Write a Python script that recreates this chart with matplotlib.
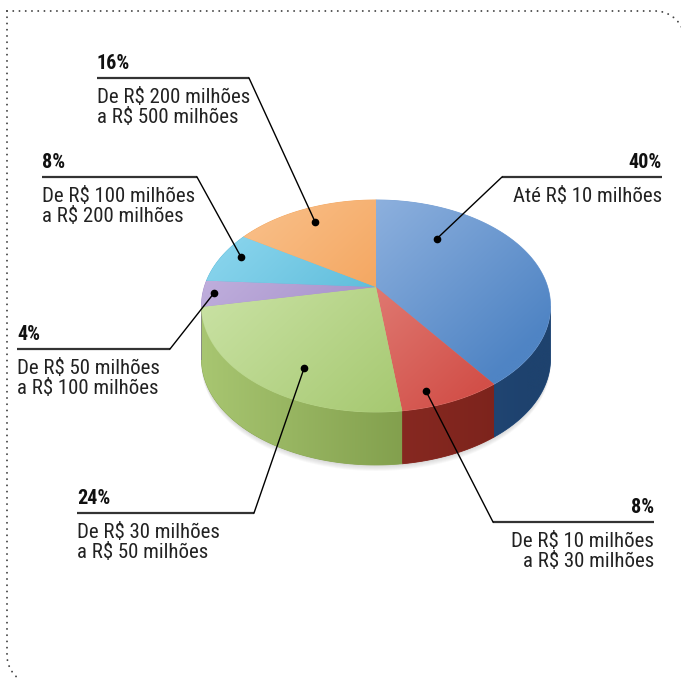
import numpy as np
import matplotlib
matplotlib.use('Agg')
import matplotlib.pyplot as plt
from matplotlib import font_manager as fm
from matplotlib.patches import Polygon
from matplotlib.colors import to_rgb

# participação por faixa de faturamento (sentido horário a partir do topo)
fatias = [40, 8, 24, 4, 8, 16]
rotulos_pct = ['40%', '8%', '24%', '4%', '8%', '16%']
faixas = [
    ['Até R$ 10 milhões'],
    ['De R$ 10 milhões', 'a R$ 30 milhões'],
    ['De R$ 30 milhões', 'a R$ 50 milhões'],
    ['De R$ 50 milhões', 'a R$ 100 milhões'],
    ['De R$ 100 milhões', 'a R$ 200 milhões'],
    ['De R$ 200 milhões', 'a R$ 500 milhões'],
]

# cores: topo claro, topo escuro, lateral clara, lateral escura
cores = [
    ('#a6c2e8', '#4f84c4', '#2f5e96', '#1e426e'),
    ('#eca29a', '#d24f48', '#9a332a', '#7a221b'),
    ('#cfe6ac', '#a0c468', '#a9c772', '#6c8938'),
    ('#c4b4e0', '#8e74b8', '#7a64a0', '#5e4a82'),
    ('#8cd6ee', '#34a5c9', '#2a86a6', '#1f6a86'),
    ('#f9c08a', '#f08f3a', '#c7712a', '#a85a1e'),
]

# posição dos rótulos: (x, alinhamento, y da linha, ângulo e raio do ponto)
layout = [
    (662, 'right', 177, 37, 0.64),
    (654, 'right', 522, 164, 0.89),
    (77, 'left', 513, 208, 0.78),
    (17, 'left', 349, 266.5, 0.935),
    (42, 'left', 177, 290.4, 0.885),
    (97, 'left', 78, 330.8, 0.82),
]
largura_linha = [160, 161, 177, 153, 155, 152]


def primeira_fonte(nomes):
    for nome in nomes:
        try:
            fm.findfont(fm.FontProperties(family=nome), fallback_to_default=False)
            return nome
        except ValueError:
            continue
    return None


estreita = primeira_fonte(['Liberation Sans Narrow', 'Roboto Condensed',
                           'Noto Sans Condensed', 'DejaVu Sans Condensed',
                           'Open Sans Condensed'])
if estreita:
    plt.rcParams['font.family'] = [estreita, 'DejaVu Sans']
    tam_txt, tam_pct = 15, 14.5
else:
    plt.rcParams['font.family'] = ['Liberation Sans', 'DejaVu Sans']
    tam_txt, tam_pct = 13.2, 13.5

# geometria da pizza em perspectiva
CX, CY, A, B, P = 376.0, 287.0, 171.7, 102.6, -0.179
D = 53.0


def proj(t, r=1.0):
    t = np.radians(t)
    u = r * np.sin(t)
    v = -r * np.cos(t)
    den = 1 + P * v
    return CX + A * u / den, CY + B * v / den


def grad_fill(ax, xy, c1, c2, p0, p1, z):
    c1 = np.array(to_rgb(c1))
    c2 = np.array(to_rgb(c2))
    base = Polygon(xy, closed=True, facecolor=(c1 + c2) / 2,
                   edgecolor=(c1 + c2) / 2, lw=0.6, zorder=z)
    ax.add_patch(base)
    clip = Polygon(xy, closed=True, facecolor='none', edgecolor='none')
    ax.add_patch(clip)
    xmin, ymin = xy.min(0)
    xmax, ymax = xy.max(0)
    gx, gy = np.meshgrid(np.linspace(xmin, xmax, 160), np.linspace(ymin, ymax, 160))
    d = np.array(p1, float) - np.array(p0, float)
    s = ((gx - p0[0]) * d[0] + (gy - p0[1]) * d[1]) / (d @ d)
    s = np.clip(s, 0, 1)[..., None]
    img = (1 - s) * c1 + s * c2
    im = ax.imshow(img, extent=(xmin, xmax, ymax, ymin), origin='upper',
                   zorder=z + 0.1, interpolation='bilinear', aspect='auto')
    im.set_clip_path(clip)


fig = plt.figure(figsize=(6.81, 6.79), dpi=100)
ax = fig.add_axes([0, 0, 1, 1])
ax.axis('off')

# moldura pontilhada
th = np.linspace(0, np.pi / 2, 30)
top = np.vstack([[7, 11], np.c_[655 + 30 * np.sin(th), 41 - 30 * np.cos(th)], [685, 720]])
left = np.vstack([[7, 11], np.c_[37 - 30 * np.cos(th), 655 + 30 * np.sin(th)], [720, 685]])
for path in (top, left):
    ax.plot(path[:, 0], path[:, 1], color='#444444', lw=1.4,
            linestyle=(0, (0.01, 3.2)), dash_capstyle='round', zorder=1)

angulos = np.concatenate([[0], np.cumsum(fatias)]) * 3.6
vis_ini, vis_fim = 100.3, 259.7

# sombra suave sob a pizza
tt = np.linspace(vis_ini - 20, vis_fim + 20, 200)
sx, sy = proj(tt)
for k in range(6, 0, -1):
    ax.fill(np.r_[sx, sx[::-1]], np.r_[sy + D - 10, sy[::-1] + D + k],
            color='#808080', alpha=0.05, lw=0, zorder=2)

# laterais
for i in range(len(fatias)):
    a, b = max(angulos[i], vis_ini), min(angulos[i + 1], vis_fim)
    if b <= a:
        continue
    t = np.linspace(a, b, 80)
    x, y = proj(t)
    xy = np.c_[np.r_[x, x[::-1]], np.r_[y, y[::-1] + D]]
    grad_fill(ax, xy, cores[i][2], cores[i][3], (CX - 180, 0), (CX + 150, 0), 3)

# topo
for i in range(len(fatias)):
    t = np.linspace(angulos[i], angulos[i + 1], 120)
    x, y = proj(t)
    xy = np.c_[np.r_[CX, x], np.r_[CY, y]]
    grad_fill(ax, xy, cores[i][0], cores[i][1], (CX - 120, CY - 90), (CX + 80, CY + 125), 5)

# rótulos e linhas de chamada
for i in range(len(fatias)):
    x0, ha, yl, ta, ra = layout[i]
    w = largura_linha[i]
    if ha == 'left':
        xa, xb = x0, x0 + w
        xe = xb
    else:
        xa, xb = x0 - w, x0
        xe = xa
    dx, dy = proj(ta, ra)
    ax.plot([xa, xb], [yl, yl], color='#333333', lw=1.6, solid_capstyle='butt', zorder=8)
    ax.plot([xe, dx], [yl, dy], color='black', lw=1.0, zorder=8)
    ax.plot(dx, dy, 'o', color='black', ms=4.5, zorder=9)
    ax.text(x0, yl - 9, rotulos_pct[i], ha=ha, va='baseline', fontsize=tam_pct,
            fontweight='bold', color='#111111', zorder=9)
    for j, linha in enumerate(faixas[i]):
        ax.text(x0, yl + 25 + 20 * j, linha, ha=ha, va='baseline', fontsize=tam_txt,
                color='#222222', zorder=9)

ax.set_xlim(0, 681)
ax.set_ylim(679, 0)
fig.savefig('out.png', dpi=100, facecolor='white')
